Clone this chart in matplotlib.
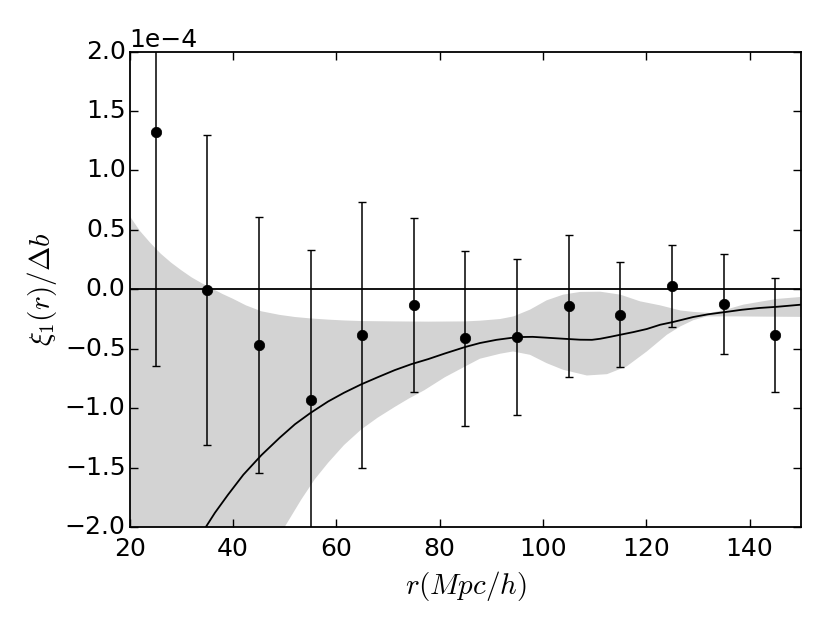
import matplotlib
matplotlib.use("Agg")
import matplotlib.pyplot as plt
from matplotlib.ticker import ScalarFormatter
import numpy as np

# ---- data (values in units of 1e-4) ----
r_pts = [25, 35, 45, 55, 65, 75, 85, 95, 105, 115, 125, 135, 145]
xi_pts = [1.32, -0.005, -0.47, -0.93, -0.385, -0.13, -0.413, -0.40, -0.143, -0.213, 0.029, -0.123, -0.382]
xi_err = [1.966, 1.305, 1.075, 1.265, 1.12, 0.734, 0.735, 0.655, 0.597, 0.44, 0.347, 0.423, 0.48]

r_curve = [34.0, 36.5, 39.0, 42.0, 45.5, 49.0, 52.0, 55.0, 58.4, 61.5, 64.8, 68.0, 71.3, 74.5, 77.8,
           81.0, 84.9, 87.8, 91.0, 95.0, 98.0, 100.7, 104.0, 107.2, 109.5, 111.1, 113.0, 115.0,
           117.5, 120.1, 122.7, 125.2, 129.1, 132.0, 135.5, 138.5, 141.9, 145.3, 150.0]
xi_curve = [-2.05, -1.88, -1.73, -1.56, -1.395, -1.25, -1.135, -1.04, -0.944, -0.87, -0.80, -0.74, -0.68,
            -0.63, -0.587, -0.54, -0.486, -0.452, -0.425, -0.402, -0.400, -0.407, -0.416, -0.424,
            -0.425, -0.416, -0.400, -0.382, -0.36, -0.334, -0.298, -0.275, -0.233, -0.21, -0.19,
            -0.172, -0.157, -0.147, -0.129]

r_band = [20.0, 22.0, 24.0, 26.0, 28.0, 30.0, 32.0, 34.0, 36.0, 38.0, 40.0, 42.5, 45.5, 49.0, 52.0,
          55.0, 58.4, 61.5, 64.8, 71.3, 77.8, 84.9, 87.8, 91.7, 94.3, 97.5, 100.7, 103.9, 107.2,
          111.1, 115.0, 118.8, 122.7, 126.6, 129.1, 132.4, 135.5, 138.8, 142.0, 145.3, 150.0]
band_hi = [0.616, 0.49, 0.39, 0.30, 0.225, 0.16, 0.10, 0.05, 0.005, -0.04, -0.08, -0.135, -0.185,
           -0.215, -0.233, -0.245, -0.255, -0.262, -0.267, -0.27, -0.272, -0.27, -0.264, -0.25,
           -0.228, -0.171, -0.093, -0.045, -0.022, -0.02, -0.045, -0.101, -0.135, -0.178, -0.19,
           -0.199, -0.17, -0.129, -0.105, -0.081, -0.064]

r_low = [48.5, 50.0, 53.2, 55.8, 58.4, 61.5, 64.8, 68.0, 71.3, 74.0, 77.0, 81.0, 84.9, 87.8, 91.7,
         94.2, 97.5, 100.7, 103.9, 108.5, 112.4, 116.2, 120.1, 124.0, 126.6, 129.1, 131.7,
         137.5, 143.0, 150.0]
band_lo = [-2.1, -2.0, -1.77, -1.6, -1.46, -1.31, -1.18, -1.08, -0.99, -0.92, -0.85, -0.74, -0.65,
           -0.584, -0.542, -0.523, -0.551, -0.621, -0.677, -0.725, -0.714, -0.649, -0.523, -0.382,
           -0.312, -0.26, -0.228, -0.228, -0.23, -0.232]

scale = 1e-4

plt.style.use('classic')
plt.rcParams['mathtext.fontset'] = 'cm'

fig = plt.figure(figsize=(8.3, 6.23), dpi=100, facecolor='white')
ax = fig.add_axes([0.1563, 0.1541, 0.809, 0.763])

# band polygon: upper edge left->right, lower edge right->left, closed below the axes on the left
poly_x = list(r_band) + list(r_low[::-1]) + [20.0]
poly_y = [v * scale for v in band_hi] + [v * scale for v in band_lo[::-1]] + [-2.1 * scale]
ax.fill(poly_x, poly_y, color='#d3d3d3', lw=0, zorder=1)

ax.plot(r_curve, [v * scale for v in xi_curve], color='black', lw=1.3, zorder=3)
ax.axhline(0, color='black', lw=1.3, zorder=2)
ax.errorbar(r_pts, [v * scale for v in xi_pts], yerr=[e * scale for e in xi_err],
            fmt='o', color='black', mfc='black', mec='black', ms=7.5, lw=1.1,
            capsize=3, capthick=1.0, zorder=4)

ax.set_xlim(20, 150)
ax.set_ylim(-2e-4, 2e-4)
ax.set_xticks([20, 40, 60, 80, 100, 120, 140])
ax.set_yticks(np.arange(-2.0, 2.01, 0.5) * scale)

fmt = ScalarFormatter(useMathText=False)
fmt.set_powerlimits((-3, 3))
fmt.set_useOffset(False)
ax.yaxis.set_major_formatter(fmt)

ax.tick_params(direction='in', length=6, width=1, labelsize=18, top=True, right=True)
ax.tick_params(axis='x', pad=7)
ax.tick_params(axis='y', pad=3)
ax.yaxis.get_offset_text().set_fontsize(18)
for s in ax.spines.values():
    s.set_linewidth(1.3)

ax.set_xlabel(r'$r(Mpc/h)$', fontsize=21, labelpad=6)
ax.set_ylabel(r'$\xi_1(r)/\Delta b$', fontsize=21, labelpad=4)

fig.savefig('out.png', dpi=100, facecolor='white')
